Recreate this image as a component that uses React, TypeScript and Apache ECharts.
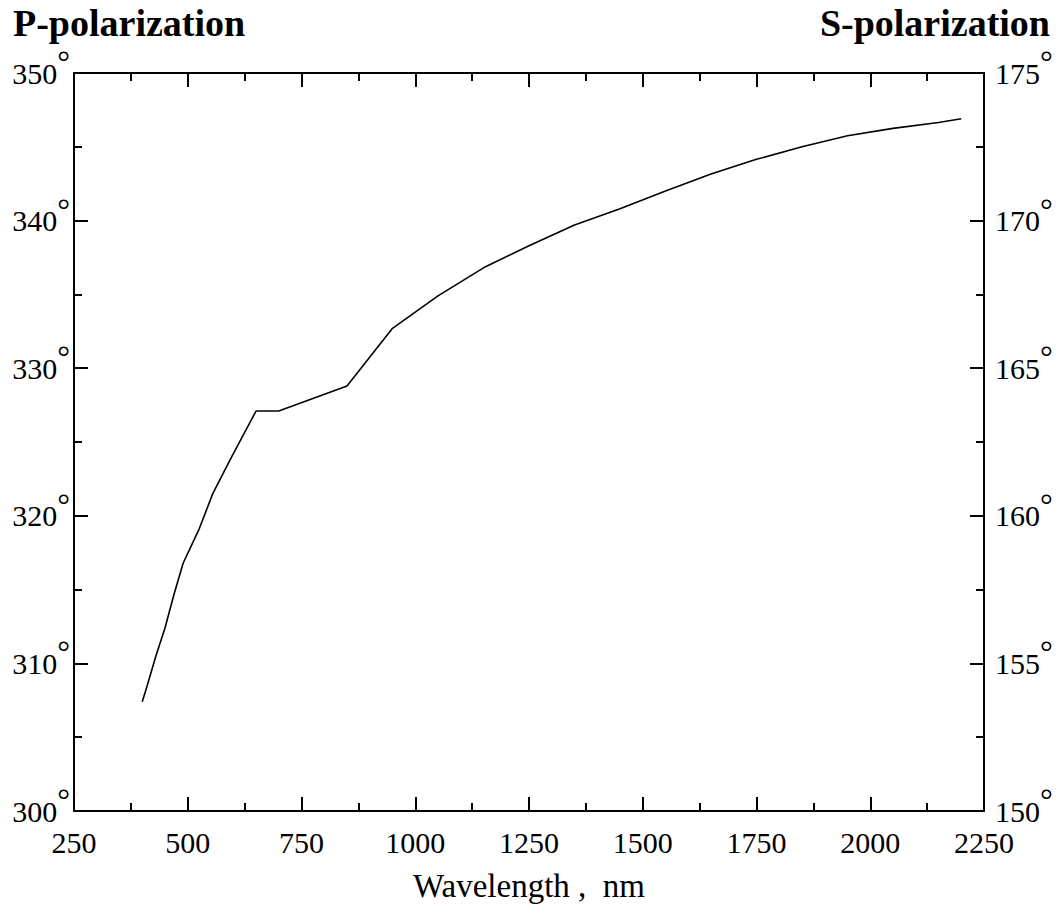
import React, { useEffect, useRef } from "react";
import * as echarts from "echarts";

const wavelengths = [400, 410, 430, 450, 470, 490, 525, 555, 595, 650, 700, 850, 950, 1000, 1050, 1150, 1250, 1350, 1450, 1550, 1650, 1750, 1850, 1950, 2050, 2150, 2200];
const pAngles = [307.4, 308.4, 310.5, 312.4, 314.7, 316.8, 319.1, 321.5, 323.9, 327.1, 327.1, 328.8, 332.7, 333.8, 334.9, 336.8, 338.3, 339.7, 340.8, 342.0, 343.15, 344.15, 345.0, 345.75, 346.25, 346.65, 346.9];

const xTicks = { min: 250, max: 2250, interval: 250 };
const leftTicks = { min: 300, max: 350, interval: 10 };
const rightTicks = { min: 150, max: 175, interval: 5 };

const titles = { left: "P-polarization", right: "S-polarization", xName: "Wavelength ,  nm" };

const FONT = "'Liberation Serif', 'Times New Roman', serif";

export default function App() {
  const ref = useRef<HTMLDivElement>(null);
  useEffect(() => {
    document.body.style.margin = "0";
    const chart = echarts.init(ref.current!, null, { renderer: "svg" });
    const degRich = {
      n: { fontSize: 30, fontFamily: FONT, color: "#000", lineHeight: 30 },
      d: { fontSize: 32, fontFamily: FONT, color: "#000", lineHeight: 30, padding: [0, 0, 22, 0] },
    };
    const axisLine = { show: true, lineStyle: { color: "#000", width: 2 } };
    const axisTick = { show: true, inside: true, length: 14, lineStyle: { color: "#000", width: 2 } };
    const minorTick = { show: true, splitNumber: 2, length: 8, lineStyle: { color: "#000", width: 2 } };
    chart.setOption({
      animation: false,
      backgroundColor: "#fff",
      grid: { left: 74, right: 76, top: 73, bottom: 107, containLabel: false },
      graphic: [
        { type: "text", left: 13, top: 4, style: { text: titles.left, font: `bold 38px ${FONT}`, fill: "#000" } },
        { type: "text", right: 10, top: 4, style: { text: titles.right, font: `bold 38px ${FONT}`, fill: "#000" } },
      ],
      xAxis: [
        {
          type: "value", position: "bottom", ...xTicks,
          name: titles.xName, nameLocation: "middle", nameGap: 58,
          nameTextStyle: { fontSize: 33, fontFamily: FONT, color: "#000" },
          axisLine, axisTick, minorTick, splitLine: { show: false },
          axisLabel: { fontSize: 30, fontFamily: FONT, color: "#000", margin: 16, formatter: (v: number) => String(v) },
        },
        {
          type: "value", position: "top", ...xTicks,
          axisLine, axisTick, minorTick, splitLine: { show: false },
          axisLabel: { show: false },
        },
      ],
      yAxis: [
        {
          type: "value", position: "left", ...leftTicks,
          axisLine, axisTick, minorTick, splitLine: { show: false },
          axisLabel: { formatter: (v: number) => `{n|${v}}{d|°}`, rich: degRich, margin: 4 },
        },
        {
          type: "value", position: "right", ...rightTicks,
          axisLine, axisTick, minorTick, splitLine: { show: false },
          axisLabel: { formatter: (v: number) => `{n|${v}}{d|°}`, rich: degRich, margin: 11 },
        },
      ],
      series: [
        {
          type: "line", xAxisIndex: 0, yAxisIndex: 0, showSymbol: false, symbol: "none",
          data: wavelengths.map((w, i) => [w, pAngles[i]]),
          lineStyle: { color: "#000", width: 1.6 },
        },
      ],
    });
    return () => chart.dispose();
  }, []);
  return <div ref={ref} style={{ width: 1060, height: 918 }} />;
}
